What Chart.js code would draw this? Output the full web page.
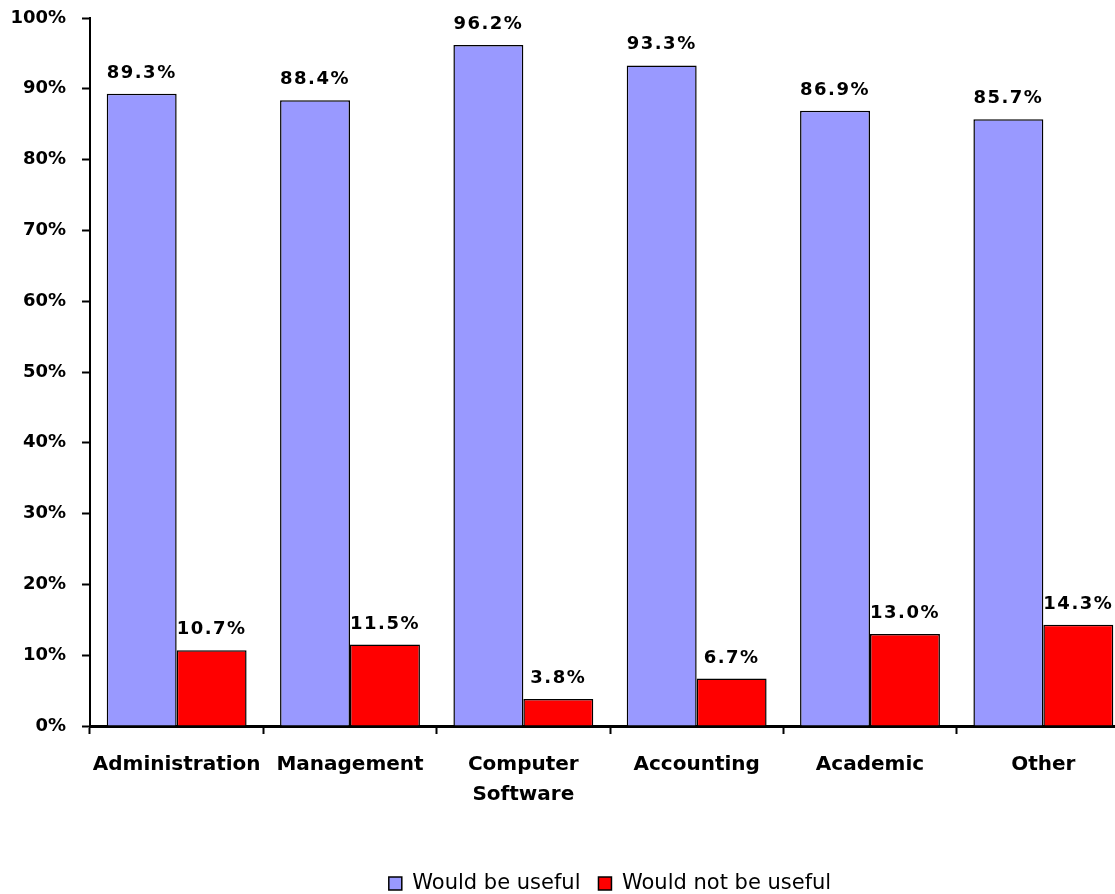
<!DOCTYPE html>
<html>
<head>
<meta charset="utf-8">
<script src="https://cdn.jsdelivr.net/npm/chart.js@4.4.1/dist/chart.umd.min.js"></script>
<style>
  html, body { margin: 0; padding: 0; background: #fff; overflow: hidden; }
  #wrap { width: 1131px; height: 904px; }
</style>
</head>
<body>
<div id="wrap"><canvas id="c" width="1131" height="904"></canvas></div>
<script>
const categories = ['Administration', 'Management', ['Computer', 'Software'], 'Accounting', 'Academic', 'Other'];
const usefulValues = [89.3, 88.4, 96.2, 93.3, 86.9, 85.7];
const notUsefulValues = [10.7, 11.5, 3.8, 6.7, 13.0, 14.3];
const seriesNames = ['Would be useful', 'Would not be useful'];
const yTicks = [0, 10, 20, 30, 40, 50, 60, 70, 80, 90, 100];

const FONT = "'DejaVu Sans', Verdana, sans-serif";

// Writes each bar's value just above its top edge
const valueLabels = {
  id: 'valueLabels',
  afterDatasetsDraw(chart) {
    const ctx = chart.ctx;
    ctx.save();
    ctx.font = 'bold 18px ' + FONT;
    ctx.fillStyle = '#000';
    ctx.textAlign = 'center';
    ctx.textBaseline = 'alphabetic';
    if ('letterSpacing' in ctx) ctx.letterSpacing = '1.5px';
    chart.data.datasets.forEach((ds, di) => {
      chart.getDatasetMeta(di).data.forEach((bar, i) => {
        ctx.fillText(ds.data[i].toFixed(1) + '%', bar.x, bar.y - 16);
      });
    });
    ctx.restore();
  }
};

new Chart(document.getElementById('c'), {
  type: 'bar',
  data: {
    labels: categories,
    datasets: [
      { label: seriesNames[0], data: usefulValues, backgroundColor: '#9999FF', borderColor: '#000', borderWidth: 1.5 },
      { label: seriesNames[1], data: notUsefulValues, backgroundColor: '#FF0000', borderColor: '#000', borderWidth: 1.5 }
    ]
  },
  options: {
    responsive: false,
    animation: false,
    events: [],
    layout: { padding: { top: 18, right: 1, bottom: 0, left: 0 } },
    datasets: { bar: { categoryPercentage: 0.807, barPercentage: 1.0 } },
    plugins: {
      tooltip: { enabled: false },
      legend: {
        position: 'bottom',
        fullSize: false,
        labels: {
          color: '#000',
          font: { family: FONT, size: 21 },
          boxWidth: 13,
          boxHeight: 13,
          padding: 18
        }
      }
    },
    scales: {
      x: {
        offset: true,
        grid: { offset: true, drawOnChartArea: false, drawTicks: true, tickLength: 8, tickWidth: 2, tickColor: '#000' },
        border: { display: true, color: '#000', width: 3 },
        ticks: { color: '#000', font: { family: FONT, size: 20, weight: 'bold', lineHeight: 1.5 }, padding: 16, maxRotation: 0, autoSkip: false },
        afterFit(s) { s.height = 129; }
      },
      y: {
        min: 0,
        max: 100,
        afterBuildTicks(s) { s.ticks = yTicks.map(v => ({ value: v })); },
        grid: { drawOnChartArea: false, drawTicks: true, tickLength: 8, tickWidth: 2, tickColor: '#000' },
        border: { display: true, color: '#000', width: 2 },
        ticks: { color: '#000', font: { family: FONT, size: 18, weight: 'bold' }, padding: 16, callback: v => v + '%' },
        afterFit(s) { s.width = 90; s.paddingTop = 11; s.paddingBottom = 11; }
      }
    }
  },
  plugins: [valueLabels]
});
</script>
</body>
</html>
